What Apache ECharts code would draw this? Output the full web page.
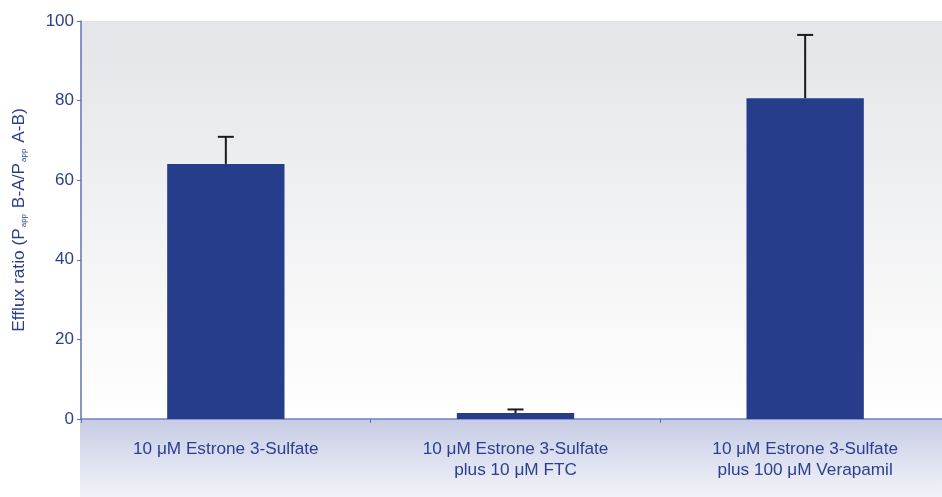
<!DOCTYPE html>
<html><head><meta charset="utf-8">
<script src="https://cdn.jsdelivr.net/npm/echarts@6/dist/echarts.min.js"></script>
<style>html,body{margin:0;padding:0;background:#fff}#c{width:942px;height:497px}</style>
</head><body><div id="c"></div>
<script>
const categories = ['10 μM Estrone 3-Sulfate', '10 μM Estrone 3-Sulfate\nplus 10 μM FTC', '10 μM Estrone 3-Sulfate\nplus 100 μM Verapamil'];
const values = [64.1, 1.5, 80.6];
const errors = [6.8, 0.9, 15.9];
const yTicks = [0, 20, 40, 60, 80, 100];

const chart = echarts.init(document.getElementById('c'));
const txt = '#2b3f8e';
const ff = 'Liberation Sans, Arial, sans-serif';
chart.setOption({
  animation: false,
  grid: {left: 81, width: 869, top: 21, height: 398, show: true, borderWidth: 0, containLabel: false, outerBoundsMode: 'none',
    backgroundColor: new echarts.graphic.LinearGradient(0,0,0,1,[{offset:0,color:'#e4e5e8'},{offset:1,color:'#ffffff'}])},
  graphic: [{type:'rect', left: 80, top: 419, z: -1, shape:{width: 870, height: 78},
    style:{fill: new echarts.graphic.LinearGradient(0,0,0,1,[{offset:0,color:'#c6cce5'},{offset:1,color:'#f2f3f9'}])}}],
  xAxis: {type:'category', data: categories,
    axisLine:{lineStyle:{color:'#7282b8', width:1.5}},
    axisTick:{show:true, length:4, inside:false, lineStyle:{color:'#4a78c0'}},
    axisLabel:{color: txt, fontSize: 17.2, fontFamily: ff, margin: 20, lineHeight: 21}},
  yAxis: {type:'value', min: yTicks[0], max: yTicks[yTicks.length-1], interval: 20,
    splitLine:{show:false},
    axisLine:{show:true, lineStyle:{color:'#6273b0', width:1.5}},
    axisTick:{show:true, length:4, lineStyle:{color:'#6273b0'}},
    axisLabel:{color: txt, fontSize: 17, fontFamily: ff, margin: 7},
    name: '{a|Efflux ratio (P}{s|app}{a| B-A/P}{s|app}{a| A-B)}',
    nameLocation:'middle', nameGap: 53, nameRotate: 90,
    nameTextStyle:{ rich:{ a:{color: txt, fontSize: 17.3, fontFamily: ff, verticalAlign:'bottom', lineHeight:18},
      s:{color: txt, fontSize: 8, fontFamily: ff, verticalAlign:'bottom', lineHeight:11, padding:[0,1,0,1]} } }
  },
  series: [
    {type:'bar', data: values, barWidth: '40.5%', itemStyle:{color:'#253d8a'}, z: 2},
    {type:'custom', z: 3, data: values.map((v,i)=>[i, v, v+errors[i]]),
      renderItem: function(params, api){
        const base = api.coord([api.value(0), api.value(1)]);
        const top = api.coord([api.value(0), api.value(2)]);
        const w = 8;
        return {type:'group', children:[
          {type:'line', shape:{x1: base[0], y1: base[1], x2: top[0], y2: top[1]}, style:{stroke:'#1a1a1a', lineWidth: 2}},
          {type:'line', shape:{x1: top[0]-w, y1: top[1], x2: top[0]+w, y2: top[1]}, style:{stroke:'#1a1a1a', lineWidth: 2}}
        ]};
      }}
  ]
});
</script></body></html>
